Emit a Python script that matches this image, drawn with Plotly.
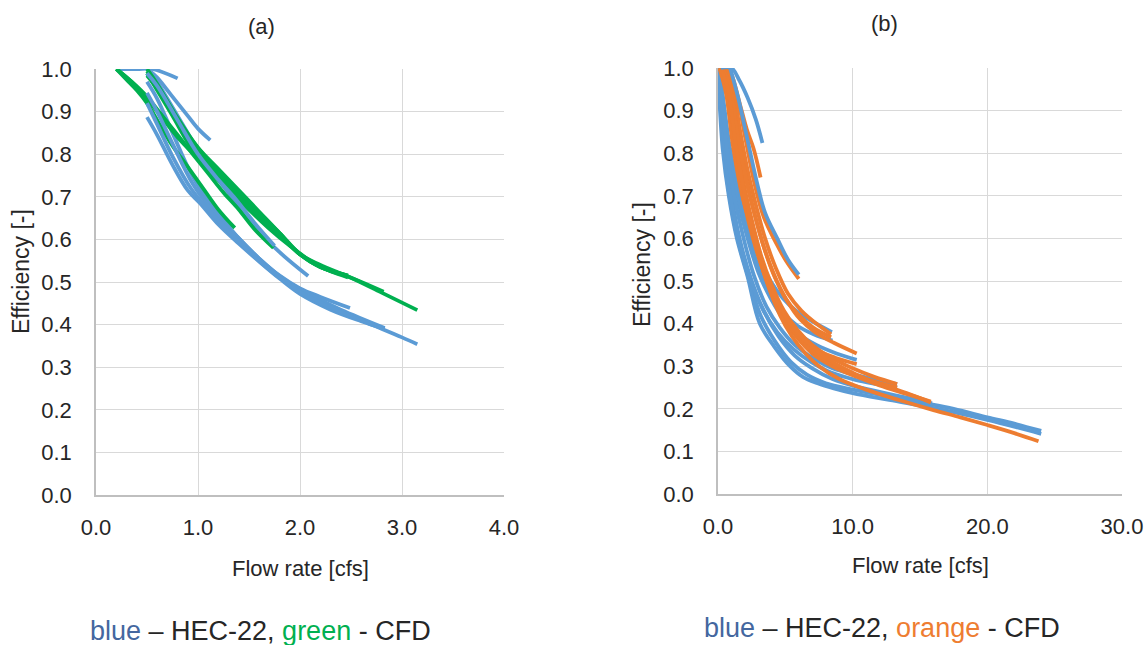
import plotly.graph_objects as go

# ---------------- data: panel (a) ----------------
a_hec_x = [
    [0.2, 0.4, 0.55, 0.8],
    [0.5, 0.6, 0.7, 0.8, 0.9, 1.0, 1.12],
    [0.55, 0.7, 0.85, 1.0, 1.2, 1.4, 1.6, 1.8, 2.08],
    [0.5, 0.6, 0.75, 0.9, 1.04, 1.2, 1.41, 1.6, 1.8, 2.0, 2.2, 2.49],
    [0.5, 0.6, 0.75, 0.95, 1.15, 1.35, 1.6, 1.85, 2.1, 2.4, 2.83],
    [0.5, 0.6, 0.75, 0.9, 1.02, 1.2, 1.4, 1.6, 1.8, 2.0, 2.3, 2.6, 2.83],
    [0.5, 0.6, 0.75, 0.93, 1.1, 1.3, 1.55, 1.8, 2.05, 2.35, 2.7, 3.0, 3.15],
    [0.5, 0.6, 0.8, 1.0, 1.2, 1.35, 1.55, 1.75],
]
a_hec_y = [
    [1.0, 1.0, 1.0, 0.978],
    [1.0, 0.98, 0.95, 0.92, 0.89, 0.86, 0.833],
    [0.99, 0.93, 0.87, 0.81, 0.74, 0.68, 0.62, 0.57, 0.514],
    [0.97, 0.93, 0.85, 0.77, 0.71, 0.66, 0.60, 0.555, 0.515, 0.485, 0.465, 0.439],
    [0.944, 0.90, 0.825, 0.73, 0.665, 0.615, 0.555, 0.505, 0.47, 0.435, 0.392],
    [0.887, 0.845, 0.775, 0.715, 0.685, 0.635, 0.59, 0.548, 0.508, 0.472, 0.435, 0.408, 0.39],
    [0.92, 0.87, 0.795, 0.72, 0.67, 0.62, 0.56, 0.51, 0.47, 0.435, 0.40, 0.37, 0.354],
    [0.99, 0.96, 0.88, 0.80, 0.74, 0.70, 0.64, 0.585],
]
a_cfd_x = [
    [0.2, 0.3, 0.4, 0.5, 0.6, 0.75, 0.9, 1.05, 1.2, 1.36],
    [0.2, 0.35, 0.5, 0.65, 0.8, 0.95, 1.1, 1.25, 1.4, 1.55, 1.74],
    [0.5, 0.6, 0.75, 0.92, 1.1, 1.3, 1.5, 1.7, 1.9, 2.1, 2.3, 2.47],
    [0.5, 0.6, 0.8, 1.0, 1.2, 1.4, 1.6, 1.8, 2.0, 2.2, 2.5, 2.82],
    [0.5, 0.6, 0.8, 1.0, 1.2, 1.4, 1.6, 1.8, 2.0, 2.2, 2.5, 2.8, 3.15],
    [0.2, 0.3, 0.45, 0.6, 0.8, 1.0, 1.2, 1.4, 1.6, 1.8, 2.0, 2.2, 2.47],
    [0.5, 0.6, 0.8, 1.0, 1.2, 1.4, 1.6, 1.8, 2.0, 2.2, 2.47],
]
a_cfd_y = [
    [1.0, 0.975, 0.95, 0.92, 0.88, 0.82, 0.77, 0.72, 0.67, 0.627],
    [1.0, 0.97, 0.935, 0.89, 0.845, 0.80, 0.755, 0.71, 0.67, 0.625, 0.58],
    [0.99, 0.95, 0.89, 0.82, 0.765, 0.715, 0.67, 0.625, 0.585, 0.55, 0.525, 0.511],
    [1.0, 0.965, 0.885, 0.815, 0.76, 0.71, 0.66, 0.615, 0.565, 0.535, 0.51, 0.477],
    [0.985, 0.955, 0.88, 0.815, 0.765, 0.715, 0.665, 0.615, 0.565, 0.54, 0.51, 0.475, 0.434],
    [1.0, 0.98, 0.945, 0.90, 0.84, 0.79, 0.74, 0.70, 0.655, 0.61, 0.565, 0.535, 0.515],
    [0.995, 0.96, 0.875, 0.805, 0.75, 0.70, 0.655, 0.61, 0.565, 0.535, 0.515],
]

# ---------------- data: panel (b) ----------------
b_hec_x = [
    [0.2, 1.0, 1.6, 2.2, 2.8, 3.3],
    [0.9, 1.5, 2.2, 2.9, 3.5, 4.4, 5.2, 6.0],
    [0.1, 0.5, 0.9, 1.6, 2.4, 3.1, 3.9, 4.8, 5.8, 7.0, 8.46],
    [0.05, 0.4, 0.8, 1.4, 2.2, 3.0, 3.9, 4.9, 6.0, 7.3, 8.8, 10.3],
    [0.05, 0.35, 0.7, 1.2, 1.9, 2.7, 3.6, 4.6, 5.7, 7.0, 8.5, 10.2, 11.8, 13.3],
    [0.0, 0.3, 0.6, 1.0, 1.6, 2.4, 3.4, 4.5, 5.7, 7.0, 8.5, 10.3, 12.0, 14.0, 15.9],
    [0.0, 0.2, 0.45, 0.85, 1.45, 2.25, 3.15, 4.2, 5.4, 6.6, 8.0, 10.0, 12.5, 15.0, 17.5, 20.0, 22.0, 24.0],
    [0.0, 0.15, 0.35, 0.8, 1.4, 2.2, 3.1, 4.2, 5.35, 6.3, 7.4, 8.6, 10.0, 12.5, 15.0, 17.5, 20.0, 22.0, 24.0],
    [0.05, 0.45, 0.85, 1.5, 2.3, 3.05, 3.9, 4.85, 5.9, 7.1, 8.5],
    [0.0, 0.25, 0.55, 0.95, 1.55, 2.35, 3.3, 4.4, 5.6, 6.9, 8.4, 10.2, 11.8, 13.3],
]
b_hec_y = [
    [1.0, 1.0, 0.97, 0.93, 0.88, 0.824],
    [1.0, 0.93, 0.83, 0.73, 0.66, 0.60, 0.55, 0.515],
    [1.0, 0.90, 0.81, 0.70, 0.61, 0.55, 0.50, 0.46, 0.43, 0.405, 0.38],
    [1.0, 0.90, 0.80, 0.70, 0.60, 0.52, 0.46, 0.41, 0.375, 0.35, 0.33, 0.315],
    [1.0, 0.90, 0.80, 0.70, 0.60, 0.51, 0.44, 0.39, 0.35, 0.32, 0.295, 0.28, 0.268, 0.258],
    [1.0, 0.90, 0.80, 0.70, 0.60, 0.51, 0.43, 0.37, 0.325, 0.295, 0.27, 0.252, 0.24, 0.226, 0.213],
    [1.0, 0.90, 0.80, 0.70, 0.60, 0.51, 0.42, 0.36, 0.31, 0.28, 0.26, 0.245, 0.23, 0.215, 0.20, 0.18, 0.165, 0.148],
    [1.0, 0.90, 0.81, 0.70, 0.60, 0.51, 0.40, 0.345, 0.30, 0.275, 0.26, 0.248, 0.237, 0.222, 0.208, 0.192, 0.174, 0.158, 0.141],
    [1.0, 0.90, 0.80, 0.70, 0.60, 0.53, 0.47, 0.425, 0.395, 0.375, 0.36],
    [1.0, 0.90, 0.80, 0.70, 0.60, 0.51, 0.435, 0.38, 0.34, 0.31, 0.285, 0.268, 0.258, 0.25],
]
b_cfd_x = [
    [0.3, 0.7, 1.1, 1.5, 1.8, 2.2, 2.65, 3.16],
    [0.6, 1.3, 2.0, 2.7, 3.4, 4.3, 5.1, 6.0],
    [0.4, 1.0, 1.6, 2.2, 2.8, 3.5, 4.3, 5.2, 6.2, 7.3, 8.4],
    [0.3, 0.9, 1.5, 2.1, 2.7, 3.4, 4.2, 5.1, 6.1, 7.2, 8.6, 10.3],
    [0.2, 0.8, 1.3, 1.9, 2.5, 3.2, 4.0, 4.9, 5.9, 7.0, 8.4, 10.0, 11.6, 13.3],
    [0.2, 0.7, 1.2, 1.8, 2.4, 3.1, 3.9, 4.8, 5.8, 7.0, 8.5, 10.3, 12.0, 14.0, 15.8],
    [0.2, 0.7, 1.3, 1.9, 2.5, 3.3, 4.1, 5.0, 6.0, 7.2, 8.7, 10.3],
    [0.2, 0.6, 1.2, 1.9, 2.6, 3.4, 4.3, 5.3, 6.4, 7.7, 9.2, 11.0, 13.3],
    [0.1, 0.6, 1.1, 1.8, 2.7, 3.5, 4.6, 5.5, 6.5, 7.5, 9.0, 11.0, 13.5, 16.0, 18.0, 20.0, 22.0, 23.8],
    [0.3, 0.8, 1.4, 2.0, 2.6, 3.3, 4.1, 5.0, 6.0, 7.1, 8.4],
    [0.2, 0.75, 1.25, 1.85, 2.45, 3.15, 3.95, 4.85, 5.85, 7.0, 8.5, 10.3, 12.0, 14.0, 15.8],
]
b_cfd_y = [
    [1.0, 1.0, 0.976, 0.93, 0.895, 0.85, 0.81, 0.743],
    [1.0, 0.95, 0.84, 0.73, 0.65, 0.59, 0.545, 0.505],
    [1.0, 0.97, 0.86, 0.76, 0.68, 0.60, 0.53, 0.47, 0.43, 0.40, 0.375],
    [1.0, 0.96, 0.84, 0.74, 0.66, 0.58, 0.51, 0.455, 0.41, 0.38, 0.355, 0.33],
    [1.0, 0.95, 0.84, 0.73, 0.645, 0.56, 0.49, 0.43, 0.385, 0.35, 0.32, 0.295, 0.275, 0.258],
    [1.0, 0.95, 0.83, 0.72, 0.63, 0.55, 0.475, 0.415, 0.37, 0.33, 0.30, 0.275, 0.255, 0.235, 0.217],
    [1.0, 0.94, 0.80, 0.70, 0.62, 0.535, 0.465, 0.41, 0.37, 0.34, 0.32, 0.305],
    [1.0, 0.95, 0.81, 0.69, 0.60, 0.52, 0.45, 0.395, 0.355, 0.32, 0.295, 0.27, 0.25],
    [1.0, 0.94, 0.82, 0.70, 0.60, 0.51, 0.42, 0.37, 0.33, 0.30, 0.27, 0.245, 0.22, 0.197, 0.18, 0.162, 0.143, 0.124],
    [1.0, 0.965, 0.85, 0.75, 0.67, 0.59, 0.52, 0.46, 0.42, 0.39, 0.368],
    [1.0, 0.95, 0.835, 0.725, 0.64, 0.555, 0.485, 0.425, 0.38, 0.345, 0.31, 0.28, 0.258, 0.237, 0.215],
]

BLUE = "#5B9BD5"
GREEN = "#00B050"
ORANGE = "#ED7D31"
FONT = "Liberation Sans, Arial, sans-serif"
TXT = "#262626"

fig = go.Figure()


def add(xs, ys, color, xa, ya):
    for x, y in zip(xs, ys):
        fig.add_trace(go.Scatter(x=x, y=y, mode="lines", xaxis=xa, yaxis=ya,
                                 line=dict(color=color, width=3.8, shape="spline", smoothing=1.0),
                                 showlegend=False, hoverinfo="skip"))


# panel (a): blue, green, then some blue on top
add(a_hec_x[:4], a_hec_y[:4], BLUE, "x", "y")
add(a_cfd_x, a_cfd_y, GREEN, "x", "y")
add(a_hec_x[4:], a_hec_y[4:], BLUE, "x", "y")

# panel (b): blue bundle, orange on top, upper blue curves last
add(b_hec_x[5:], b_hec_y[5:], BLUE, "x2", "y2")
add(b_hec_x[2:5], b_hec_y[2:5], BLUE, "x2", "y2")
add(b_cfd_x, b_cfd_y, ORANGE, "x2", "y2")
add(b_hec_x[:2], b_hec_y[:2], BLUE, "x2", "y2")

W, H = 1146, 645


def px(v):
    return v / W


def py(v):
    return 1 - v / H


axis_common = dict(showgrid=True, gridcolor="#D9D9D9", gridwidth=1,
                   showline=True, linecolor="#BFBFBF", linewidth=1.5,
                   zeroline=False, ticks="", tickformat=".1f", automargin=False,
                   tickfont=dict(family=FONT, size=22, color=TXT))

fig.update_layout(
    template="none",
    width=W, height=H, margin=dict(l=0, r=0, t=0, b=0, autoexpand=False),
    paper_bgcolor="white", plot_bgcolor="white", showlegend=False,
    xaxis=dict(domain=[px(96), px(504)], range=[0, 4], dtick=1, anchor="y",
               ticklabelstandoff=12, **axis_common),
    yaxis=dict(domain=[py(495), py(69)], range=[0, 1], dtick=0.1, anchor="x",
               ticklabelstandoff=18, **axis_common),
    xaxis2=dict(domain=[px(718), px(1122)], range=[0, 30], dtick=10, anchor="y2",
                ticklabelstandoff=12, **axis_common),
    yaxis2=dict(domain=[py(494), py(68)], range=[0, 1], dtick=0.1, anchor="x2",
                ticklabelstandoff=18, **axis_common),
)

ann = []


def text(x, y, s, size=22, angle=0):
    ann.append(dict(x=px(x), y=py(y), xref="paper", yref="paper", text=s,
                    showarrow=False, xanchor="center", yanchor="middle", textangle=angle,
                    font=dict(family=FONT, size=size, color=TXT)))


text(261, 26, "(a)")
text(884, 23, "(b)")
text(300, 568, "Flow rate [cfs]")
text(920, 565, "Flow rate [cfs]")
text(21, 272, "Efficiency [-]", size=23, angle=-90)
text(642, 265, "Efficiency [-]", size=23, angle=-90)
text(260, 631, "<span style='color:#44679F'>blue</span> – HEC-22, "
     "<span style='color:#00B050'>green</span> - CFD", size=27)
text(882, 628, "<span style='color:#44679F'>blue</span> – HEC-22, "
     "<span style='color:#EE7D31'>orange</span> - CFD", size=27)
fig.update_layout(annotations=ann)

fig.write_html("out.html")
